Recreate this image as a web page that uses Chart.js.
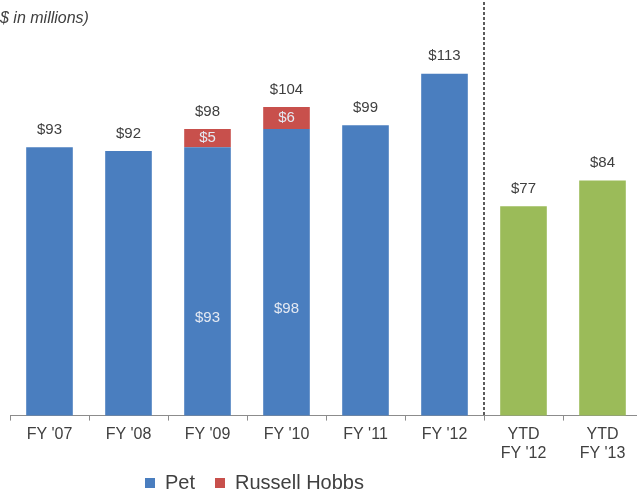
<!DOCTYPE html>
<html>
<head>
<meta charset="utf-8">
<script src="https://cdn.jsdelivr.net/npm/chart.js@4/dist/chart.umd.min.js"></script>
<style>
html,body{margin:0;padding:0;background:#fff;}
#wrap{width:637px;height:493px;position:relative;}
</style>
</head>
<body>
<div id="wrap"><canvas id="c" width="637" height="493"></canvas></div>
<script>
const categories = ["FY '07", "FY '08", "FY '09", "FY '10", "FY '11", "FY '12", ["YTD", "FY '12"], ["YTD", "FY '13"]];
const petValues = [93, 92, 93, 98, 99, 113, null, null];
const russellValues = [null, null, 5, 6, null, null, null, null];
const ytdValues = [null, null, null, null, null, null, 77, 84];
const innerLabelIndexes = [2, 3];
const unitNote = "$ in millions)";

const colors = { pet: '#4A7EBF', russell: '#C8504C', ytd: '#9BBB59', text: '#404040', axis: '#8C8C8C' };

const overlayPlugin = {
  id: 'overlay',
  afterDatasetsDraw(chart) {
    const ctx = chart.ctx;
    const xs = chart.scales.x, ys = chart.scales.y;
    const area = chart.chartArea;
    ctx.save();
    // dashed separator between actual years and YTD
    const xSep = (xs.getPixelForValue(5) + xs.getPixelForValue(6)) / 2;
    ctx.strokeStyle = '#333';
    ctx.lineWidth = 1.6;
    ctx.setLineDash([3, 2]);
    ctx.beginPath();
    ctx.moveTo(xSep, 2);
    ctx.lineTo(xSep, area.bottom);
    ctx.stroke();
    ctx.setLineDash([]);
    // totals
    ctx.font = '15px "Liberation Sans", Arial, sans-serif';
    ctx.fillStyle = colors.text;
    ctx.textAlign = 'center';
    ctx.textBaseline = 'bottom';
    categories.forEach((c, i) => {
      const total = (petValues[i] || 0) + (russellValues[i] || 0) + (ytdValues[i] || 0);
      const x = xs.getPixelForValue(i);
      const y = ys.getPixelForValue(total);
      ctx.fillText('$' + total, x, y - 10);
    });
    // inner segment labels
    ctx.fillStyle = '#E4E9F2';
    ctx.textBaseline = 'middle';
    [0, 1].forEach(di => {
      const meta = chart.getDatasetMeta(di);
      const vals = chart.data.datasets[di].data;
      innerLabelIndexes.forEach(i => {
        const el = meta.data[i];
        if (!el || vals[i] == null) return;
        const p = el.getProps(['x', 'y', 'base'], true);
        ctx.fillText('$' + vals[i], p.x, (p.y + p.base) / 2);
      });
    });
    // unit note
    ctx.font = 'italic 16px "Liberation Sans", Arial, sans-serif';
    ctx.fillStyle = colors.text;
    ctx.textAlign = 'left';
    ctx.textBaseline = 'middle';
    ctx.fillText(unitNote, 0, 19);
    ctx.restore();
  }
};

const layoutTweak = {
  id: 'layoutTweak',
  afterLayout(chart) {
    const lg = chart.legend;
    if (lg) {
      const w = lg.right - lg.left;
      lg.left = 125; lg.right = 125 + w;
      lg.top -= 14; lg.bottom -= 14;
    }
    const xs = chart.scales.x;
    xs.right = 642;
    xs.width = xs.right - xs.left;
    xs.configure();
  }
};

new Chart(document.getElementById('c'), {
  type: 'bar',
  data: {
    labels: categories,
    datasets: [
      { label: 'Pet', data: petValues, backgroundColor: colors.pet, stack: 's', barPercentage: 0.59, categoryPercentage: 1 },
      { label: 'Russell Hobbs', data: russellValues, backgroundColor: colors.russell, stack: 's', barPercentage: 0.59, categoryPercentage: 1 },
      { label: 'YTD', data: ytdValues, backgroundColor: colors.ytd, stack: 's', barPercentage: 0.59, categoryPercentage: 1 }
    ]
  },
  options: {
    responsive: false,
    animation: false,
    layout: { padding: { left: 10, right: 0, top: 4, bottom: -24 } },
    plugins: {
      legend: {
        position: 'bottom',
        align: 'start',
        labels: {
          filter: item => item.datasetIndex < 2,
          boxWidth: 10, boxHeight: 10,
          padding: 20,
          color: colors.text,
          font: { size: 20, family: '"Liberation Sans", Arial, sans-serif' }
        }
      },
      tooltip: { enabled: false },
      title: { display: false }
    },
    scales: {
      x: {
        stacked: true,
        grid: { display: true, drawOnChartArea: false, drawTicks: true, tickLength: 5, color: colors.axis },
        border: { color: colors.axis, width: 1 },
        ticks: { color: colors.text, padding: 4, maxRotation: 0, autoSkip: false, font: { size: 16, family: '"Liberation Sans", Arial, sans-serif' } }
      },
      y: {
        stacked: true, display: false, min: 20, max: 132
      }
    }
  },
  plugins: [overlayPlugin, layoutTweak]
});
</script>
</body>
</html>
